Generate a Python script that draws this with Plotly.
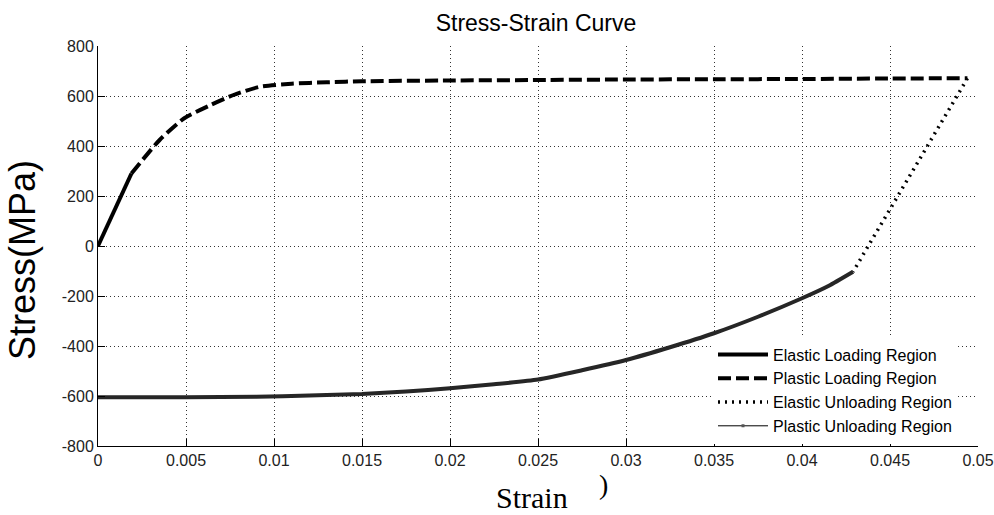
import plotly.graph_objects as go

# ---- data ----
elastic_load_strain = [0.0, 0.0019]
elastic_load_stress = [0, 290]

plastic_load_strain = [0.0019, 0.0035, 0.0049, 0.0064, 0.0077, 0.0092, 0.011, 0.013,
                       0.015, 0.02, 0.025, 0.03, 0.035, 0.04, 0.045, 0.0494]
plastic_load_stress = [290, 424, 511, 564, 604, 637, 649, 655,
                       659, 662, 664, 666, 667, 668, 670, 671]

elastic_unload_strain = [0.0494, 0.0471, 0.04538, 0.04386, 0.0429]
elastic_unload_stress = [671, 397, 197, 11, -103]

plastic_unload_strain = [0.0429, 0.0415, 0.04, 0.0375, 0.035, 0.0325, 0.03, 0.0275,
                         0.025, 0.0225, 0.02, 0.0175, 0.015, 0.012, 0.009, 0.005, 0.0]
plastic_unload_stress = [-103, -160, -209, -283, -349, -405, -456, -497,
                         -534, -553, -569, -582, -592, -598, -603, -605, -605]

x_tickvals = [0, 0.005, 0.01, 0.015, 0.02, 0.025, 0.03, 0.035, 0.04, 0.045, 0.05]
x_ticktext = ["0", "0.005", "0.01", "0.015", "0.02", "0.025", "0.03", "0.035", "0.04", "0.045", "0.05"]
y_tickvals = [-800, -600, -400, -200, 0, 200, 400, 600, 800]
y_ticktext = ["-800", "-600", "-400", "-200", "0", "200", "400", "600", "800"]

legend_names = ["Elastic Loading Region", "Plastic Loading Region",
                "Elastic Unloading Region", "Plastic Unloading Region"]

SANS = "Liberation Sans, Arial, sans-serif"
SERIF = "Liberation Serif, Times New Roman, serif"

fig = go.Figure()

fig.add_trace(go.Scatter(x=elastic_load_strain, y=elastic_load_stress, mode="lines",
                         name=legend_names[0],
                         line=dict(color="black", width=4)))
fig.add_trace(go.Scatter(x=plastic_load_strain, y=plastic_load_stress, mode="lines",
                         name=legend_names[1],
                         line=dict(color="black", width=4, dash="13px,5px", shape="spline", smoothing=0.6)))
fig.add_trace(go.Scatter(x=elastic_unload_strain, y=elastic_unload_stress, mode="lines",
                         name=legend_names[2],
                         line=dict(color="black", width=3.5, dash="2px,5px")))
fig.add_trace(go.Scatter(x=plastic_unload_strain, y=plastic_unload_stress, mode="lines",
                         name=legend_names[3], showlegend=False,
                         line=dict(color="#262626", width=4, shape="spline", smoothing=0.6)))
# legend entry for the plastic unloading curve (thin line with marker)
fig.add_trace(go.Scatter(x=[None], y=[None], mode="lines+markers",
                         name=legend_names[3],
                         line=dict(color="black", width=1),
                         marker=dict(symbol="square", size=3, color="#555")))

axis_common = dict(
    showline=True, linecolor="black", linewidth=1,
    ticks="inside", ticklen=7, tickcolor="black", tickwidth=1,
    showgrid=True, gridcolor="#333333", gridwidth=1, griddash="1px,3px",
    zeroline=False, tickfont=dict(family=SANS, size=16, color="#222"),
    mirror=False, automargin=False,
)

fig.update_xaxes(range=[0, 0.05], tickmode="array", tickvals=x_tickvals, ticktext=x_ticktext,
                 **axis_common)
fig.update_yaxes(range=[-800, 800], tickmode="array", tickvals=y_tickvals, ticktext=y_ticktext,
                 **axis_common)

fig.update_layout(
    width=994, height=515,
    margin=dict(l=98, r=16, t=46, b=69),
    paper_bgcolor="white", plot_bgcolor="white",
    showlegend=True,
    title=dict(text="Stress-Strain Curve", x=(536) / 994, xanchor="center",
               y=1 - 23 / 515, yanchor="middle", yref="container",
               font=dict(family=SANS, size=23, color="black")),
    legend=dict(x=(713 - 98) / 880, xanchor="left", y=(446 - 337.5) / 400, yanchor="top",
                bgcolor="white", borderwidth=0, itemwidth=50,
                font=dict(family=SANS, size=16, color="black")),
    annotations=[
        dict(text="Strain", xref="paper", yref="paper", x=(532 - 98) / 880, y=(446 - 498) / 400,
             xanchor="center", yanchor="middle", showarrow=False,
             font=dict(family=SERIF, size=30, color="black")),
        dict(text=")", xref="paper", yref="paper", x=(603 - 98) / 880, y=(446 - 485) / 400,
             xanchor="center", yanchor="middle", showarrow=False,
             font=dict(family=SERIF, size=28, color="black")),
        dict(text="Stress(MPa)", xref="paper", yref="paper", x=(22 - 98) / 880, y=(446 - 260) / 400,
             xanchor="center", yanchor="middle", showarrow=False, textangle=-90,
             font=dict(family=SANS, size=36, color="black")),
    ],
)

fig.write_html("out.html")
